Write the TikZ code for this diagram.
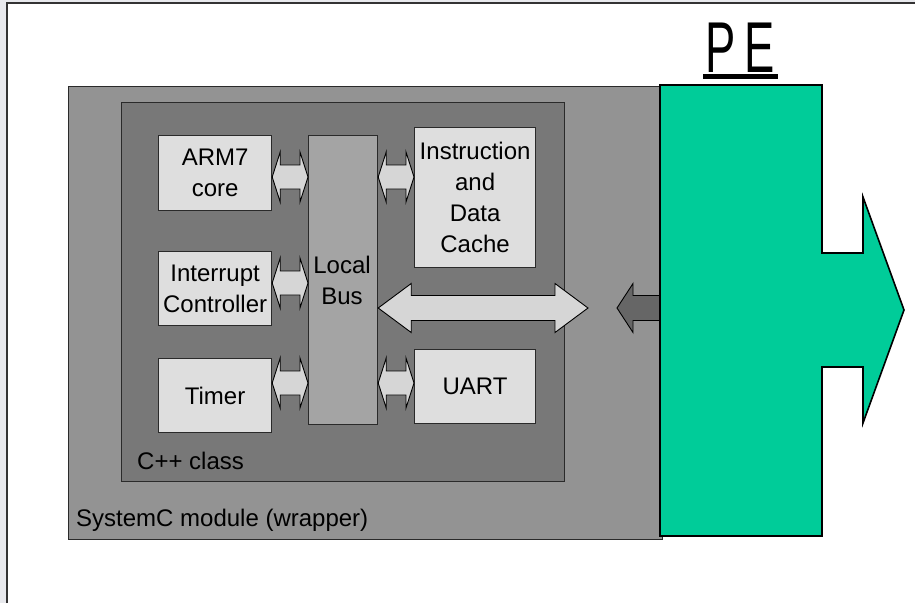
\documentclass[tikz,border=0pt]{standalone}
\usepackage{fontspec}
\setmainfont{Liberation Sans}
\newfontfamily\pefont[FakeStretch=0.63]{Liberation Sans}
\usetikzlibrary{calc}

\definecolor{pagegrey}{HTML}{E8E9ED}
\definecolor{framecol}{HTML}{333333}
\definecolor{edgecol}{HTML}{2A2A2A}
\definecolor{wrapgrey}{HTML}{939393}
\definecolor{classgrey}{HTML}{787878}
\definecolor{unitgrey}{HTML}{DEDEDE}
\definecolor{busgrey}{HTML}{A4A4A4}
\definecolor{linkgrey}{HTML}{D6D6D6}
\definecolor{portgrey}{HTML}{666666}
\definecolor{pegreen}{HTML}{00CC99}

% horizontal two-headed block arrow between two points on one level
% #1 left end, #2 right end, #3 head length, #4 head half-height, #5 shaft half-height, #6 style
\newcommand\dblblock[6]{%
  \path[#6] let \p1=(#1), \p2=(#2) in
    (\x1,\y1) -- (\x1+#3,\y1+#4) -- (\x1+#3,\y1+#5) -- (\x2-#3,\y1+#5)
    -- (\x2-#3,\y1+#4) -- (\x2,\y1) -- (\x2-#3,\y1-#4) -- (\x2-#3,\y1-#5)
    -- (\x1+#3,\y1-#5) -- (\x1+#3,\y1-#4) -- cycle;}

\begin{document}
\begin{tikzpicture}[x=1pt,y=-1pt,
  box/.style={draw=edgecol, line width=1.2pt, inner sep=0pt, anchor=north west,
    font=\fontsize{24}{31}\selectfont, align=center},
  unit/.style={box, fill=unitgrey},
  tag/.style={inner sep=0pt, anchor=base west, font=\fontsize{24}{31}\selectfont},
  link/.style={draw=black, line width=0.9pt, fill=linkgrey, line join=miter},
  port/.style={draw=black, line width=0.9pt, fill=portgrey, line join=miter}]
\useasboundingbox (0,0) rectangle (915,603);

% slide sheet
\fill[pagegrey] (0,0) rectangle (915,603);
\fill[white] (7,3) rectangle (915,603);
\draw[framecol, line width=1.2pt] (7,603) -- (7,3) -- (915,3);

% wrapper and class
\node[box, fill=wrapgrey, minimum width=594pt, minimum height=453pt] (wrap) at (68,86) {};
\node[box, fill=classgrey, minimum width=443pt, minimum height=379pt] (cls) at (121,102) {};
\node[tag] (wraplabel) at (76,526) {SystemC module (wrapper)};
\node[tag] (clslabel) at (137,469) {C++ class};

% units on the local bus
\node[unit, minimum width=113pt, minimum height=75pt] (arm) at (158,135) {ARM7\\core};
\node[unit, minimum width=113pt, minimum height=74pt] (irq) at (158,251) {Interrupt\\Controller};
\node[unit, minimum width=113pt, minimum height=74pt] (timer) at (158,358) {Timer};
\node[box, fill=busgrey, minimum width=69pt, minimum height=289pt] (bus) at (308,135) {};
\node[box, inner sep=0pt, anchor=center, draw=none] (buslabel) at (342,280) {Local\\Bus};
\node[unit, minimum width=121pt, minimum height=140pt] (cache) at (414,127) {Instruction\\and\\Data\\Cache};
\node[unit, minimum width=121pt, minimum height=74pt] (uart) at (414,349) {UART};

% bus links
\dblblock{arm.east |- 0,177}{bus.west |- 0,177}{8pt}{25pt}{12pt}{link}
\dblblock{irq.east |- 0,283}{bus.west |- 0,283}{8pt}{25pt}{12pt}{link}
\dblblock{timer.east |- 0,383}{bus.west |- 0,383}{8pt}{25pt}{12pt}{link}
\dblblock{bus.east |- 0,177}{cache.west |- 0,177}{8pt}{25pt}{12pt}{link}
\dblblock{bus.east |- 0,383}{uart.west |- 0,383}{8pt}{25pt}{12pt}{link}

% class interface towards the wrapper
\coordinate (busport) at (588,308);
\dblblock{bus.east |- 0,308}{busport}{33pt}{24.5pt}{12.5pt}{link}

% wrapper port from the PE
\coordinate (pin) at (617,308);
\coordinate (pein) at (661,308);
\path[port] let \p1=(pin), \p2=(pein) in
  (\x1,\y1) -- (\x1+16pt,\y1+24.5pt) -- (\x1+16pt,\y1+12.5pt) -- (\x2,\y1+12.5pt)
  -- (\x2,\y1-12.5pt) -- (\x1+16pt,\y1-12.5pt) -- (\x1+16pt,\y1-24.5pt) -- cycle;

% processing element
\draw[fill=pegreen, line width=1.6pt, line join=miter]
  (660,85) -- (822,85) -- (822,253) -- (863,253) -- (863,197) -- (904,310)
  -- (863,423) -- (863,367) -- (822,367) -- (822,536) -- (660,536) -- cycle;
\node[inner sep=0pt, anchor=base, font=\pefont\fontsize{72}{72}\selectfont] (petitle)
  at (740.5,72) {P\kern9pt E};
\fill[black] (703,74) rectangle (778,79);
\end{tikzpicture}
\end{document}
